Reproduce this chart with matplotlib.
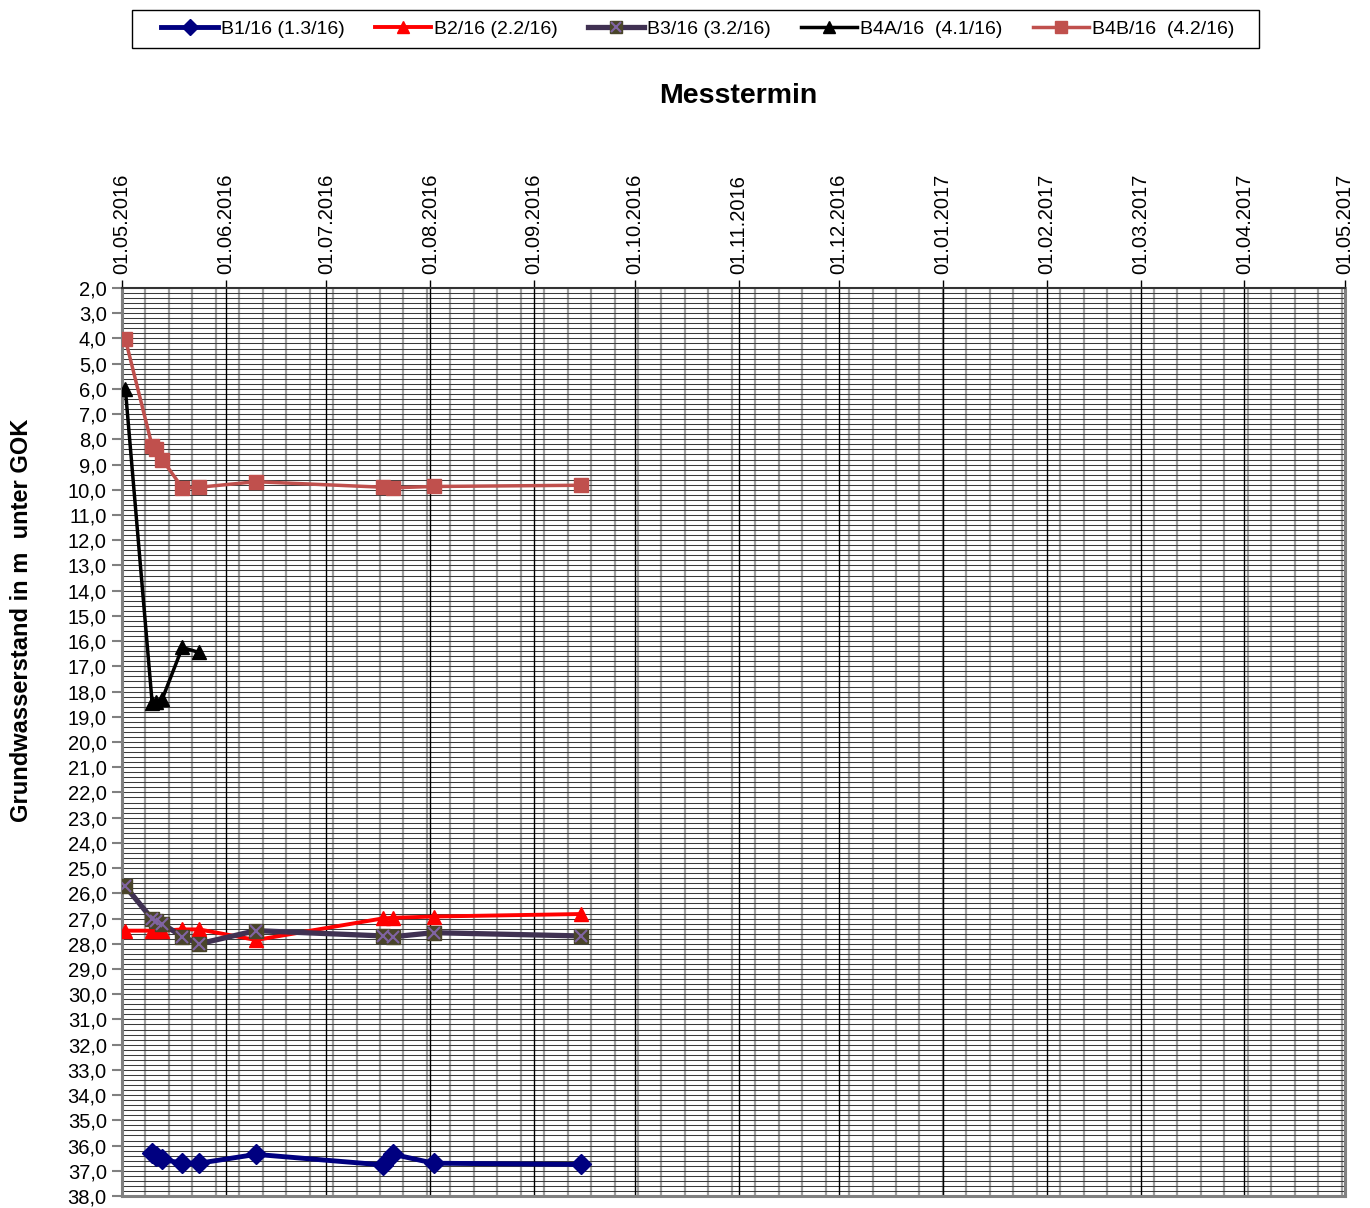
import numpy as np
import matplotlib
matplotlib.use("Agg")
import matplotlib.pyplot as plt
import matplotlib.dates as mdates
from matplotlib.ticker import FixedLocator, FuncFormatter
from matplotlib.legend_handler import HandlerTuple
from matplotlib.patches import Rectangle
from datetime import datetime

plt.rcParams['font.family'] = ['Liberation Sans', 'DejaVu Sans']

# Measurement dates
dates_all = ["02.05.2016", "10.05.2016", "11.05.2016", "13.05.2016", "19.05.2016",
             "24.05.2016", "10.06.2016", "18.07.2016", "21.07.2016", "02.08.2016",
             "15.09.2016"]

# Groundwater level in m below ground surface (GOK)
b1_dates = dates_all[1:]
b1_vals = [36.3, 36.4, 36.55, 36.7, 36.7, 36.35, 36.77, 36.35, 36.7, 36.75]

b2_dates = dates_all
b2_vals = [27.48, 27.48, 27.48, 27.48, 27.43, 27.43, 27.85, 26.99, 26.97, 26.92, 26.82]

b3_dates = dates_all
b3_vals = [25.72, 27.02, 27.1, 27.2, 27.72, 28.0, 27.48, 27.69, 27.72, 27.56, 27.69]

b4a_dates = dates_all[:6]
b4a_vals = [6.0, 18.45, 18.4, 18.3, 16.25, 16.45]

b4b_dates = dates_all
b4b_vals = [4.03, 8.27, 8.4, 8.8, 9.92, 9.9, 9.68, 9.9, 9.92, 9.87, 9.82]

labels = ["B1/16 (1.3/16)", "B2/16 (2.2/16)", "B3/16 (3.2/16)",
          "B4A/16  (4.1/16)", "B4B/16  (4.2/16)"]

month_ticks = ["01.05.2016", "01.06.2016", "01.07.2016", "01.08.2016", "01.09.2016",
               "01.10.2016", "01.11.2016", "01.12.2016", "01.01.2017", "01.02.2017",
               "01.03.2017", "01.04.2017", "01.05.2017"]


def to_num(ds):
    return mdates.date2num([datetime.strptime(d, "%d.%m.%Y") for d in ds])


W, H = 1370, 1208
fig = plt.figure(figsize=(W / 100, H / 100), dpi=100)
ax = fig.add_axes([122 / W, 12 / H, (1345 - 122) / W, (1196 - 288) / H])

x_start, x_end = to_num([month_ticks[0], month_ticks[-1]])
ax.set_xlim(x_start, x_end)
ax.set_ylim(38.0, 2.0)

# Grid: weekly vertical lines, monthly black lines, 0.2 m horizontal lines
weeks = np.arange(x_start, x_end + 0.5, 7)
for w in weeks:
    ax.axvline(w, color="#a0a0a0", lw=1.6, zorder=0)
for yv in np.arange(2.0, 38.01, 0.2):
    ax.axhline(yv, color="#3a3a3a", lw=0.75, zorder=0.5)
for m in to_num(month_ticks):
    ax.axvline(m, color="black", lw=1.0, zorder=0.8)

# Series
l1, = ax.plot(to_num(b1_dates), b1_vals, color="#000080", lw=3.5, marker="D",
              ms=10, mfc="#000080", mec="#000080", zorder=3)
l2, = ax.plot(to_num(b2_dates), b2_vals, color="#FF0000", lw=2.8, marker="^",
              ms=10, mfc="#FF0000", mec="#FF0000", zorder=3)
l3, = ax.plot(to_num(b3_dates), b3_vals, color="#403152", lw=3.8, marker="s",
              ms=10, mfc="#4A452A", mec="#4A452A", zorder=3)
l3x, = ax.plot(to_num(b3_dates), b3_vals, ls="none", marker="x", ms=9,
               mew=1.5, color="#8064A2", zorder=3.1)
l4, = ax.plot(to_num(b4a_dates), b4a_vals, color="black", lw=2.5, marker="^",
              ms=10, mfc="black", mec="black", zorder=3)
l5, = ax.plot(to_num(b4b_dates), b4b_vals, color="#C0504D", lw=2.5, marker="s",
              ms=10, mfc="#C0504D", mec="#C0504D", zorder=3)

# Axes styling
ax.xaxis.set_major_locator(FixedLocator(to_num(month_ticks)))
ax.set_xticklabels(month_ticks, rotation=90, fontsize=14.5)
ax.xaxis.tick_top()
ax.tick_params(axis="x", direction="out", length=6, width=1, color="black", pad=4)

yt = np.arange(2, 39, 1.0)
ax.yaxis.set_major_locator(FixedLocator(yt))
ax.yaxis.set_major_formatter(FuncFormatter(lambda v, p: f"{v:.1f}".replace(".", ",")))
ax.tick_params(axis="y", direction="out", length=7, width=1.5, color="#808080",
               labelsize=14.5, pad=4)

for side in ["left", "bottom", "right"]:
    ax.spines[side].set_color("#808080")
    ax.spines[side].set_linewidth(2.2)
ax.spines["top"].set_color("#333333")
ax.spines["top"].set_linewidth(1.5)

fig.text(22 / W, 1 - 620 / H, "Grundwasserstand in m  unter GOK", fontsize=17,
         fontweight="bold", rotation=90, ha="center", va="center")

fig.text(738 / W, 1 - 96 / H, "Messtermin", fontsize=20.5, fontweight="bold",
         ha="center", va="center")

# Legend box
fig.patches.append(Rectangle((132 / W, 1 - 48 / H), (1259 - 132) / W, 38 / H,
                             transform=fig.transFigure, fill=False,
                             edgecolor="black", lw=1.0))
leg = fig.legend([l1, l2, (l3, l3x), l4, l5], labels, ncol=5,
                 loc="center", bbox_to_anchor=(698 / W, 1 - 29 / H),
                 fontsize=14, frameon=False, markerscale=0.8,
                 handlelength=2.9, columnspacing=1.55, handletextpad=0.15,
                 borderpad=0.3, handler_map={tuple: HandlerTuple(ndivide=1, pad=0)})

fig.savefig("out.png", dpi=100)
